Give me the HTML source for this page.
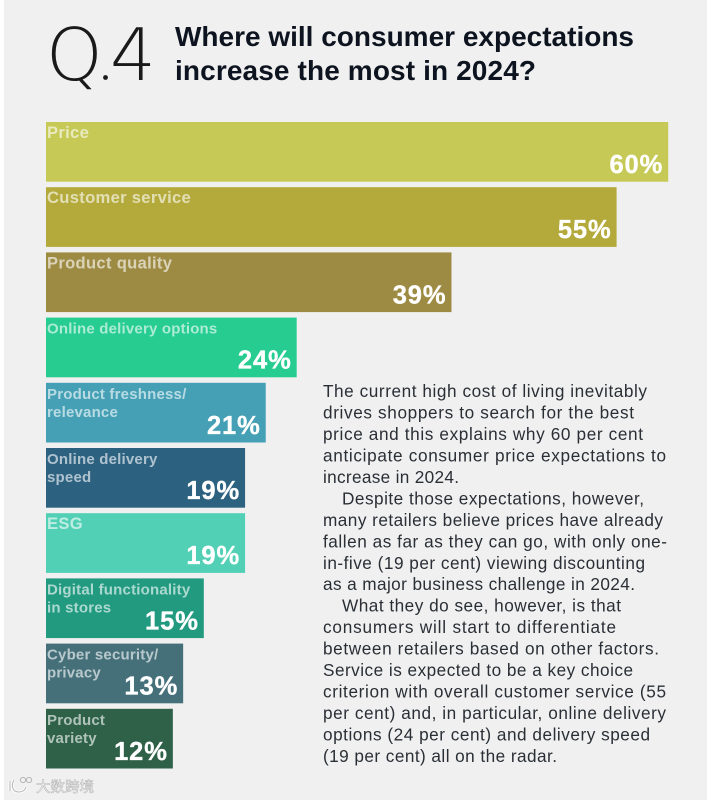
<!DOCTYPE html>
<html lang="en">
<head>
<meta charset="utf-8">
<title>Q.4 Where will consumer expectations increase the most in 2024?</title>
<style>
  html, body { margin: 0; padding: 0; background: #fff; width: 712px; height: 800px; overflow: hidden; }
  svg { display: block; font-family: "Liberation Sans", "Noto Sans CJK SC", sans-serif; }
  .soft { filter: blur(0.35px); }
  .title { font-size: 28px; font-weight: 700; fill: #0d1420; }
  .body-line { font-size: 17.2px; fill: #2a2f36; }
  .bar-label { font-size: 16.6px; font-weight: 700; fill: rgba(255,255,255,0.62); letter-spacing: 0.3px; }
  .bar-label.small { font-size: 15px; letter-spacing: 0.2px; }
  .bar-value { font-size: 25.5px; font-weight: 700; fill: #fff; stroke: #fff; stroke-width: 0.35px; letter-spacing: 0.9px; text-anchor: end; }
  .q-mark { font-family: "DejaVu Sans", sans-serif; font-weight: 200; font-size: 72px; fill: #1a1a1a; }
</style>
</head>
<body>
<svg id="chart" xmlns="http://www.w3.org/2000/svg" width="712" height="800" viewBox="0 0 712 800">
  <rect x="4" y="0" width="703" height="800" fill="#f0f0f0"/>

  <g>
    <text class="q-mark" x="46" y="80">Q</text>
    <text class="q-mark" x="110" y="80">4</text>
    <circle cx="105.5" cy="77.5" r="2.4" fill="#1a1a1a"/>
  </g>

  <g class="soft">
    <text class="title" x="175" y="46" textLength="459">Where will consumer expectations</text>
    <text class="title" x="175" y="80" textLength="361">increase the most in 2024?</text>
  </g>

  <g id="bars"></g>

  <g class="soft">
    <text class="body-line" x="323" y="397" textLength="324">The current high cost of living inevitably</text>
    <text class="body-line" x="323" y="418.5" textLength="311">drives shoppers to search for the best</text>
    <text class="body-line" x="323" y="440" textLength="320">price and this explains why 60 per cent</text>
    <text class="body-line" x="323" y="461.4" textLength="343">anticipate consumer price expectations to</text>
    <text class="body-line" x="323" y="482.9" textLength="136">increase in 2024.</text>
    <text class="body-line" x="342" y="504.4" textLength="302">Despite those expectations, however,</text>
    <text class="body-line" x="323" y="525.8" textLength="340">many retailers believe prices have already</text>
    <text class="body-line" x="323" y="547.3" textLength="344">fallen as far as they can go, with only one-</text>
    <text class="body-line" x="323" y="568.8" textLength="322">in-five (19 per cent) viewing discounting</text>
    <text class="body-line" x="323" y="590.2" textLength="312">as a major business challenge in 2024.</text>
    <text class="body-line" x="342" y="611.7" textLength="279">What they do see, however, is that</text>
    <text class="body-line" x="323" y="633.2" textLength="293">consumers will start to differentiate</text>
    <text class="body-line" x="323" y="654.6" textLength="336">between retailers based on other factors.</text>
    <text class="body-line" x="323" y="676.1" textLength="310">Service is expected to be a key choice</text>
    <text class="body-line" x="323" y="697.6" textLength="343">criterion with overall customer service (55</text>
    <text class="body-line" x="323" y="719" textLength="343">per cent) and, in particular, online delivery</text>
    <text class="body-line" x="323" y="740.5" textLength="327">options (24 per cent) and delivery speed</text>
    <text class="body-line" x="323" y="762" textLength="234">(19 per cent) all on the radar.</text>
  </g>

  <g opacity="0.8">
    <path d="M10 781 v10 M14 780 c-3 5 -2 12 5 12 c4 0 6 -2 7 -5" fill="none" stroke="#fff" stroke-width="3"/>
    <path d="M10 781 v10 M14 780 c-3 5 -2 12 5 12 c4 0 6 -2 7 -5" fill="none" stroke="#a8a8a8" stroke-width="1"/>
    <circle cx="23" cy="780" r="2.6" fill="none" stroke="#a8a8a8" stroke-width="1"/>
    <circle cx="29" cy="780" r="2.6" fill="none" stroke="#a8a8a8" stroke-width="1"/>
    <text x="36" y="792" font-size="14.5" fill="#fff" stroke="#a0a0a0" stroke-width="0.5" font-family="'Noto Sans CJK SC', sans-serif">大数跨境</text>
  </g>
</svg>
<script>
// Chart data
const categories = [
  ["Price"],
  ["Customer service"],
  ["Product quality"],
  ["Online delivery options"],
  ["Product freshness/", "relevance"],
  ["Online delivery", "speed"],
  ["ESG"],
  ["Digital functionality", "in stores"],
  ["Cyber security/", "privacy"],
  ["Product", "variety"]
];
const values = [60, 55, 39, 24, 21, 19, 19, 15, 13, 12];
const valueSuffix = "%";

// Styling, kept apart from the data
const barColors = ["#c6c956", "#b4aa3b", "#9e8b43", "#26cc90", "#45a0b5", "#2c6180", "#52d0b5", "#229a80", "#45707a", "#2f6149"];

// Axis functions
const PLOT_LEFT = 46, PLOT_TOP = 122, BAND_STEP = 65.2, BAR_HEIGHT = 59.7;
function xLength(v) { return 3 + v * 10.32; }
function yTop(i) { return PLOT_TOP + i * BAND_STEP; }

const SVG_NS = "http://www.w3.org/2000/svg";
const barsGroup = document.getElementById("bars");

values.forEach(function (value, i) {
  const group = document.createElementNS(SVG_NS, "g");
  
  

  const rect = document.createElementNS(SVG_NS, "rect");
  
  
  const top = yTop(i), len = xLength(value);
  rect.setAttribute("x", PLOT_LEFT);
  rect.setAttribute("y", top);
  rect.setAttribute("width", len);
  rect.setAttribute("height", BAR_HEIGHT);
  rect.setAttribute("fill", barColors[i % barColors.length]);
  group.appendChild(rect);

  categories[i].forEach(function (line, k) {
    const label = document.createElementNS(SVG_NS, "text");
    
    
    const compact = categories[i].length > 1 || line.length > 16;
    label.setAttribute("class", compact ? "bar-label small soft" : "bar-label soft");
    label.setAttribute("x", PLOT_LEFT + 1);
    label.setAttribute("y", top + 16 + k * 18);
    label.textContent = line;
    group.appendChild(label);
  });

  const valueText = document.createElementNS(SVG_NS, "text");
  
  
  valueText.setAttribute("class", "bar-value soft");
  valueText.setAttribute("x", PLOT_LEFT + len - 5);
  valueText.setAttribute("y", top + 51);
  valueText.textContent = value + valueSuffix;
  group.appendChild(valueText);

  barsGroup.appendChild(group);
});
</script>
</body>
</html>
